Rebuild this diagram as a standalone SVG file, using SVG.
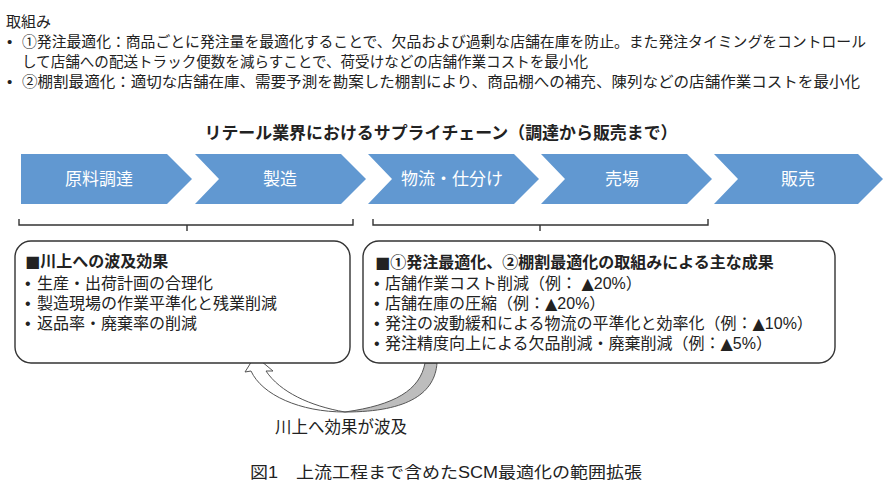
<svg xmlns="http://www.w3.org/2000/svg" width="890" height="500" viewBox="0 0 890 500">
<style>
text{font-family:"Liberation Sans","Noto Sans CJK JP",sans-serif;fill:#222;}
.top{font-size:15px;}
.ttl{font-size:17px;font-weight:bold;text-anchor:middle;}
.chev{fill:#6198d1;}
.ct{font-size:17px;fill:#fff;text-anchor:middle;}
.box{fill:#fff;stroke:#333;stroke-width:1.4;}
.hd{font-weight:bold;}
.sym{font-family:"DejaVu Sans",sans-serif;}
.it{font-size:16px;}
.br{fill:none;stroke:#333;stroke-width:1.4;}
.cap{font-size:16px;}
</style>
<rect width="890" height="500" fill="#fff"/>
<g id="intro">
<text class="top"><tspan x="6" y="27">取組み</tspan><tspan x="7" y="47">•</tspan><tspan x="22" y="47" textLength="844" lengthAdjust="spacingAndGlyphs">①発注最適化：商品ごとに発注量を最適化することで、欠品および過剰な店舗在庫を防止。また発注タイミングをコントロール</tspan><tspan x="22" y="67" textLength="566" lengthAdjust="spacingAndGlyphs">して店舗への配送トラック便数を減らすことで、荷受けなどの店舗作業コストを最小化</tspan><tspan x="7" y="87">•</tspan><tspan x="22" y="87" textLength="838" lengthAdjust="spacingAndGlyphs">②棚割最適化：適切な店舗在庫、需要予測を勘案した棚割により、商品棚への補充、陳列などの店舗作業コストを最小化</tspan></text>
</g>
<g id="title"><text class="ttl" x="441" y="139" textLength="473" lengthAdjust="spacingAndGlyphs">リテール業界におけるサプライチェーン（調達から販売まで）</text></g>
<g id="step1"><path class="chev" d="M21 154H167L192 179L167 204H21Z"/><text class="ct" x="99" y="185">原料調達</text></g>
<g id="step2"><path class="chev" d="M195 154H341L366 179L341 204H195L219 179Z"/><text class="ct" x="280" y="185">製造</text></g>
<g id="step3"><path class="chev" d="M368 154H514L539 179L514 204H368L392 179Z"/><text class="ct" x="452" y="185">物流・仕分け</text></g>
<g id="step4"><path class="chev" d="M541 154H687L712 179L687 204H541L565 179Z"/><text class="ct" x="622" y="185">売場</text></g>
<g id="step5"><path class="chev" d="M714 154H858L883 179L858 204H714L738 179Z"/><text class="ct" x="798" y="185">販売</text></g>
<g id="connectors">
<path class="br" d="M19 219V225H353V219M187 225V231"/>
<path class="br" d="M373 219V225H708V219M540 225V231"/>
<path d="M425 363L437 363C435 392 410 412 345 412C395 405 420 390 425 363Z" fill="#bdbdbd" stroke="#555" stroke-width="1"/>
<path d="M251 371C262 395 300 412 345 412C310 406 280 392 266 371L273 371L255 356L245 372Z" fill="#fff" stroke="#555" stroke-width="1"/>
</g>
<g id="upstream">
<rect class="box" x="15" y="241" width="335" height="122" rx="16"/>
<text class="it"><tspan class="hd" x="25" y="267"><tspan class="sym">■</tspan>川上への波及効果</tspan><tspan x="25" y="289">•</tspan><tspan x="37" y="289">生産・出荷計画の合理化</tspan><tspan x="25" y="309">•</tspan><tspan x="37" y="309">製造現場の作業平準化と残業削減</tspan><tspan x="25" y="329">•</tspan><tspan x="37" y="329">返品率・廃棄率の削減</tspan></text>
</g>
<g id="results">
<rect class="box" x="363" y="241" width="472" height="122" rx="16"/>
<text class="it"><tspan class="hd" x="375" y="268"><tspan class="sym">■</tspan>①発注最適化、②棚割最適化の取組みによる主な成果</tspan><tspan x="374" y="289">•</tspan><tspan x="385" y="289">店舗作業コスト削減（例： <tspan class="sym">▲</tspan>20%）</tspan><tspan x="374" y="309">•</tspan><tspan x="385" y="309">店舗在庫の圧縮（例：<tspan class="sym">▲</tspan>20%）</tspan><tspan x="374" y="329">•</tspan><tspan x="385" y="329">発注の波動緩和による物流の平準化と効率化（例：<tspan class="sym">▲</tspan>10%）</tspan><tspan x="374" y="349">•</tspan><tspan x="385" y="349">発注精度向上による欠品削減・廃棄削減（例：<tspan class="sym">▲</tspan>5%）</tspan></text>
</g>
<g id="ripple"><text class="it" x="341" y="433" text-anchor="middle" style="font-size:16.5px">川上へ効果が波及</text></g>
<g id="caption"><text class="cap" x="446" y="478" text-anchor="middle" textLength="392" lengthAdjust="spacingAndGlyphs">図1　上流工程まで含めたSCM最適化の範囲拡張</text></g>
</svg>
